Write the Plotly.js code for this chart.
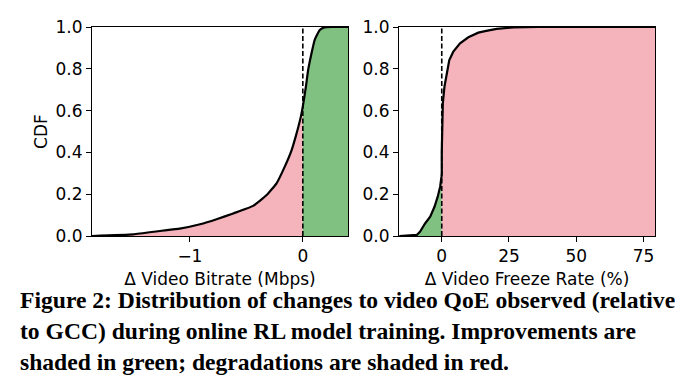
<!DOCTYPE html>
<html>
<head>
<meta charset="utf-8">
<script src="https://cdn.plot.ly/plotly-3.0.1.min.js"></script>
<style>html,body{margin:0;padding:0;background:#fff;}#chart{width:679px;height:389px;}</style>
</head>
<body>
<div id="chart"></div>
<script>
// Left panel: change in video bitrate (Mbps) CDF
const bitrateX = [-1.867,-1.5,-1.265,-1.09,-0.91,-0.764,-0.617,-0.44,-0.32,-0.233,-0.16,-0.10,-0.056,-0.018,0,0.027,0.047,0.075,0.106,0.15,0.19,0.25,0.4];
const bitrateCdf = [0,0.008,0.024,0.035,0.056,0.08,0.108,0.144,0.196,0.252,0.332,0.41,0.49,0.57,0.62,0.714,0.794,0.87,0.94,0.986,0.998,1,1];
// Right panel: change in video freeze rate (%) CDF
const freezeX = [-15.8,-9.3,-8.1,-6.2,-4.3,-2.7,-1.5,-0.6,-0.1,0,0,0.1,0.4,1.0,1.9,2.8,4.3,6.8,9.9,13.6,16.1,20.4,26.6,36,79.3];
const freezeCdf = [0,0.005,0.02,0.06,0.092,0.14,0.188,0.236,0.284,0.30,0.40,0.555,0.635,0.714,0.778,0.842,0.882,0.922,0.951,0.973,0.98,0.991,0.998,1,1];

const bitrateTicks = [-1, 0];
const bitrateTickText = ['\u22121', '0'];
const freezeTicks = [0, 25, 50, 75];
const cdfTicks = [0, 0.2, 0.4, 0.6, 0.8, 1.0];
const cdfTickText = ['0.0','0.2','0.4','0.6','0.8','1.0'];

const captionLines = [
  'Figure 2: Distribution of changes to video QoE observed (relative',
  'to GCC) during online RL model training. Improvements are',
  'shaded in green; degradations are shaded in red.'
];

const GREEN = '#80c080';
const PINK = '#f5b4bc';

function part(xs, ys, test) {
  const ox = [], oy = [];
  xs.forEach((v, i) => { if (test(v)) { ox.push(v); oy.push(ys[i]); } });
  return {x: ox, y: oy};
}

const bNeg = part(bitrateX, bitrateCdf, v => v <= 0);
const bPos = part(bitrateX, bitrateCdf, v => v >= 0);
const fNeg = part(freezeX, freezeCdf, v => v <= 0);
const fPos = part(freezeX, freezeCdf, v => v >= 0);

const fillTrace = (d, color, xa, ya) => ({
  x: d.x, y: d.y, xaxis: xa, yaxis: ya, type: 'scatter', mode: 'lines',
  fill: 'tozeroy', fillcolor: color, line: {width: 0, color: color}, hoverinfo: 'skip', showlegend: false
});

const traces = [
  fillTrace(bNeg, PINK, 'x', 'y'),
  fillTrace(bPos, GREEN, 'x', 'y'),
  fillTrace(fNeg, GREEN, 'x2', 'y2'),
  fillTrace(fPos, PINK, 'x2', 'y2'),
  {x: [0, 0], y: [0, 1], xaxis: 'x', yaxis: 'y', type: 'scatter', mode: 'lines',
   line: {color: '#000', width: 1.6, dash: '5px,2.5px'}, showlegend: false},
  {x: [0, 0], y: [0, 1], xaxis: 'x2', yaxis: 'y2', type: 'scatter', mode: 'lines',
   line: {color: '#000', width: 1.6, dash: '5px,2.5px'}, showlegend: false},
  {x: bitrateX, y: bitrateCdf, xaxis: 'x', yaxis: 'y', type: 'scatter', mode: 'lines',
   line: {color: '#000', width: 2.2, shape: 'spline', smoothing: 0.4}, showlegend: false},
  {x: freezeX, y: freezeCdf, xaxis: 'x2', yaxis: 'y2', type: 'scatter', mode: 'lines',
   line: {color: '#000', width: 2.2}, showlegend: false}
];

const tickFont = {family: 'DejaVu Sans', size: 17, color: '#000'};
const axisCommon = {
  showgrid: false, zeroline: false, showline: true, linecolor: '#000', linewidth: 1,
  mirror: true, ticks: 'outside', ticklen: 5, tickwidth: 1, tickcolor: '#000',
  tickfont: tickFont
};

const layout = {
  width: 679, height: 389,
  margin: {l: 0, r: 0, t: 0, b: 0},
  paper_bgcolor: '#fff', plot_bgcolor: '#fff',
  showlegend: false,
  xaxis: Object.assign({}, axisCommon, {
    domain: [92/679, 348/679], range: [-1.867, 0.4], tickvals: bitrateTicks, ticktext: bitrateTickText,
    anchor: 'y', title: {text: '\u0394 Video Bitrate (Mbps)', font: tickFont, standoff: 7}
  }),
  yaxis: Object.assign({}, axisCommon, {
    domain: [1 - 236/389, 1 - 27/389], range: [0, 1], tickvals: cdfTicks, ticktext: cdfTickText,
    anchor: 'x', title: {text: 'CDF', font: tickFont, standoff: 3}
  }),
  xaxis2: Object.assign({}, axisCommon, {
    domain: [399/679, 655/679], range: [-15.9, 79.3], tickvals: freezeTicks,
    anchor: 'y2', title: {text: '\u0394 Video Freeze Rate (%)', font: tickFont, standoff: 7}
  }),
  yaxis2: Object.assign({}, axisCommon, {
    domain: [1 - 236/389, 1 - 27/389], range: [0, 1], tickvals: cdfTicks, ticktext: cdfTickText,
    anchor: 'x2'
  }),
  annotations: captionLines.map((t, i) => ({
    text: '<b>' + t + '</b>', xref: 'paper', yref: 'paper', x: 18/679, y: 1 - (300 + i * 31) / 389,
    xanchor: 'left', yanchor: 'middle', showarrow: false,
    font: {family: 'Liberation Serif', size: 23.6, color: '#000'}
  }))
};

Plotly.newPlot('chart', traces, layout, {displayModeBar: false, staticPlot: true});
</script>
</body>
</html>
